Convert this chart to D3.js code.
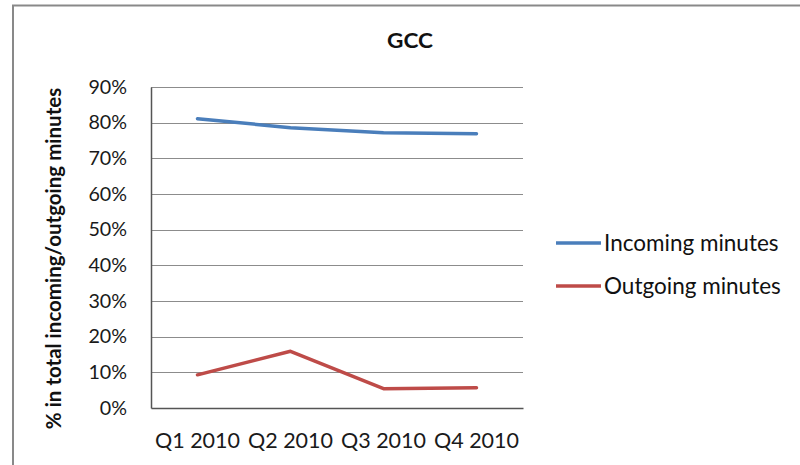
<!DOCTYPE html>
<html>
<head>
<meta charset="utf-8">
<script src="https://cdn.jsdelivr.net/npm/d3@7"></script>
<style>
  html, body { margin: 0; padding: 0; background: #fff; }
  svg { display: block; font-family: Lato, "Open Sans", sans-serif; }
</style>
</head>
<body>
<svg id="chart" width="800" height="465"></svg>
<script>
// Quarterly share of GCC traffic minutes
const quarters = ["Q1 2010", "Q2 2010", "Q3 2010", "Q4 2010"];
const incoming = [0.811, 0.786, 0.772, 0.769];
const outgoing = [0.093, 0.159, 0.054, 0.057];
const yTicks = [0, 0.1, 0.2, 0.3, 0.4, 0.5, 0.6, 0.7, 0.8, 0.9];
const seriesNames = ["Incoming minutes", "Outgoing minutes"];
const seriesColors = ["#4a7ebb", "#be4b48"];

const svg = d3.select("#chart");
const W = 800, H = 465;
const plot = { left: 151, right: 523, top: 87, bottom: 408 };

// outer frame
svg.append("rect")
  .attr("x", 13).attr("y", 5.5)
  .attr("width", W + 10).attr("height", H + 10)
  .attr("fill", "none").attr("stroke", "#898989").attr("stroke-width", 2);

const x = d3.scaleBand().domain(quarters).range([plot.left, plot.right]);
const y = d3.scaleLinear().domain([0, 0.9]).range([plot.bottom, plot.top]);

// horizontal gridlines
svg.append("g")
  .selectAll("line")
  .data(yTicks.slice(1))
  .join("line")
  .attr("x1", plot.left).attr("x2", plot.right)
  .attr("y1", d => Math.round(y(d)) + 0.5).attr("y2", d => Math.round(y(d)) + 0.5)
  .attr("stroke", "#8c8c8c").attr("stroke-width", 1);

// y axis
const yAxis = svg.append("g")
  .attr("transform", `translate(${plot.left},0)`)
  .call(d3.axisLeft(y).tickValues(yTicks).tickFormat(d3.format(".0%")).tickSize(0).tickPadding(24));
yAxis.select(".domain").attr("stroke", "#555").attr("stroke-width", 1.5);
yAxis.selectAll("text")
  .attr("font-size", 19.7).attr("fill", "#1a1a1a")
  .attr("font-family", "Lato, sans-serif");

// x axis
const xAxis = svg.append("g")
  .attr("transform", `translate(0,${plot.bottom})`)
  .call(d3.axisBottom(x).tickSize(0).tickPadding(25));
xAxis.select(".domain").attr("stroke", "#555").attr("stroke-width", 1.5);
xAxis.selectAll("text")
  .attr("font-size", 21.5).attr("fill", "#1a1a1a")
  .attr("font-family", "Lato, sans-serif");

// series lines
const line = d3.line()
  .x((d, i) => x(quarters[i]) + x.bandwidth() / 2)
  .y(d => y(d));

[incoming, outgoing].forEach((vals, k) => {
  svg.append("path")
    .datum(vals)
    .attr("d", line)
    .attr("fill", "none")
    .attr("stroke", seriesColors[k])
    .attr("stroke-width", 3.5)
    .attr("stroke-linejoin", "round")
    .attr("stroke-linecap", "round");
});

// title
svg.append("text")
  .attr("x", 410).attr("y", 48)
  .attr("text-anchor", "middle")
  .attr("font-size", 21).attr("font-weight", "bold").attr("fill", "#111")
  .attr("textLength", 46).attr("lengthAdjust", "spacingAndGlyphs")
  .text("GCC");

// y axis title
svg.append("text")
  .attr("transform", "translate(61,258.5) rotate(-90)")
  .attr("text-anchor", "middle")
  .attr("font-size", 20.5).attr("font-weight", "bold").attr("fill", "#111")
  .text("% in total incoming/outgoing minutes");

// legend
const legend = svg.append("g");
seriesNames.forEach((name, k) => {
  const ly = 243 + k * 43;
  legend.append("line")
    .attr("x1", 556).attr("x2", 601)
    .attr("y1", ly).attr("y2", ly)
    .attr("stroke", seriesColors[k]).attr("stroke-width", 3.5);
  legend.append("text")
    .attr("x", 604).attr("y", ly + 8)
    .attr("font-size", 22.5).attr("fill", "#111")
    .text(name);
});
</script>
</body>
</html>
